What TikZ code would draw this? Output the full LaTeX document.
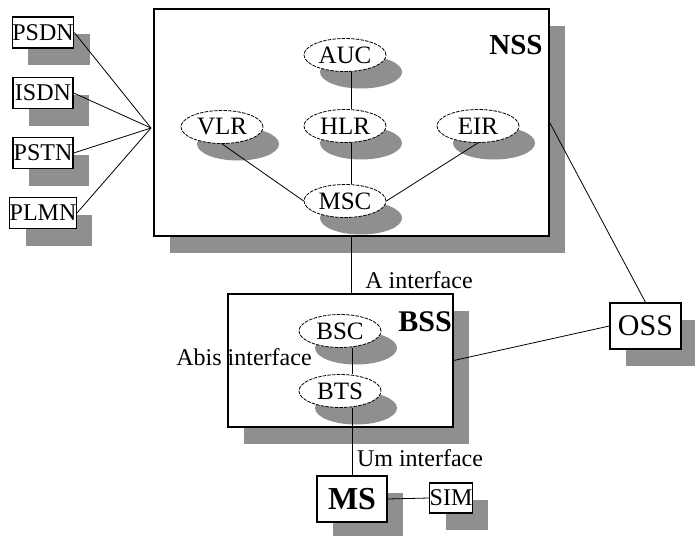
\documentclass[tikz,border=0pt]{standalone}
\usepackage{fontspec}
\setmainfont{Liberation Serif}
\usetikzlibrary{shapes.geometric,shadows}
\definecolor{shadowgray}{RGB}{143,143,143}

\begin{document}
\begin{tikzpicture}[x=1pt,y=-1pt,
        dropgray/.style={drop shadow={shadow xshift=16pt,shadow yshift=-17pt,fill=shadowgray,opacity=1}},
        netbox/.style={draw,line width=1.3pt,fill=white,dropgray,inner sep=0pt,font=\fontsize{24}{26}\selectfont},
        unit/.style={ellipse,draw,fill=white,dash pattern=on 3.5pt off 1.2pt,line width=0.8pt,dropgray,
            minimum width=82pt,minimum height=33pt,inner sep=0pt,font=\fontsize{25}{27}\selectfont},
        lbl/.style={inner sep=0pt,font=\fontsize{24}{26}\selectfont},
        link/.style={line width=0.8pt}]
    \useasboundingbox (0,0) rectangle (695,535);

    % subsystems
    \node[netbox,minimum width=395pt,minimum height=227pt] (NSS) at (351.5,122.5) {};
    \node[lbl,font=\fontsize{29}{31}\selectfont\bfseries] (NSSname) at (516,45) {NSS};
    \node[netbox,minimum width=225pt,minimum height=133pt] (BSS) at (340.5,360.5) {};
    \node[lbl,font=\fontsize{30}{32}\selectfont\bfseries] (BSSname) at (425,322) {BSS};

    % NSS units
    \node[unit] (AUC) at (345,55) {AUC};
    \node[unit] (HLR) at (345,126) {HLR};
    \node[unit] (VLR) at (222,127) {VLR};
    \node[unit] (EIR) at (478,126) {EIR};
    \node[unit] (MSC) at (345,201) {MSC};

    % BSS units
    \node[unit] (BSC) at (340,331) {BSC};
    \node[unit] (BTS) at (340,391) {BTS};

    % outside networks
    \foreach \net/\y in {PSDN/32.5,ISDN/93,PSTN/153,PLMN/213}
        \node[netbox,minimum width=60pt,minimum height=31pt] (\net) at (43,\y) {\net};
    \coordinate (hub) at (151,128);

    \node[netbox,minimum width=71pt,minimum height=46pt,font=\fontsize{30}{32}\selectfont] (OSS) at (645.5,326) {OSS};
    \node[netbox,minimum width=70pt,minimum height=46pt,font=\fontsize{32}{34}\selectfont\bfseries] (MS) at (352,499) {MS};
    \node[netbox,minimum width=42pt,minimum height=30pt] (SIM) at (451,498) {SIM};

    % interfaces
    \node[lbl] (Aif) at (419,280) {A interface};
    \node[lbl] (Abisif) at (244,357) {Abis interface};
    \node[lbl] (Umif) at (420,458) {Um interface};

    % links
    \foreach \net in {PSDN,ISDN,PSTN,PLMN}
        \draw[link] (\net.east) -- (hub);
    \draw[link] (AUC.south -| NSS.south) -- (HLR.north -| NSS.south);
    \draw[link] (HLR.south -| NSS.south) -- (MSC.north -| NSS.south);
    \draw[link] (VLR.south) -- (MSC.west);
    \draw[link] (EIR.south) -- (MSC.east);
    \draw[link] (NSS.south) -- (NSS.south |- BSS.north);
    \draw[link] (BSC.south -| MS.north) -- (BTS.north -| MS.north);
    \draw[link] (BTS.south -| MS.north) -- (MS.north);
    \draw[link] (NSS.east) -- (OSS.north);
    \draw[link] (BSS.east) -- (OSS.west);
    \draw[link] (MS.east) -- (SIM.west);
\end{tikzpicture}
\end{document}
